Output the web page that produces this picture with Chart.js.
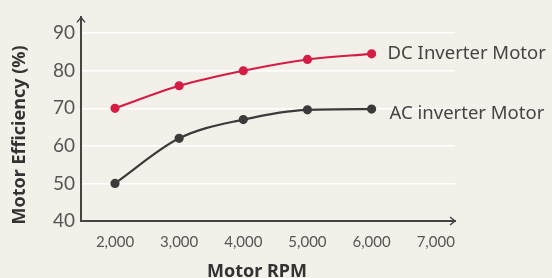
<!DOCTYPE html>
<html>
<head>
<meta charset="utf-8">
<script src="https://cdn.jsdelivr.net/npm/chart.js@4"></script>
<style>
  html, body { margin: 0; padding: 0; background: #f3f0ea; }
  #wrap { width: 552px; height: 278px; }
</style>
</head>
<body>
<div id="wrap"><canvas id="chart"></canvas></div>
<script>
const rpm = [2000, 3000, 4000, 5000, 6000];
const dcEfficiency = [70, 76, 80, 83, 84.5];
const acEfficiency = [50, 62, 67, 69.6, 69.8];
const xTicks = [2000, 3000, 4000, 5000, 6000, 7000];
const yTicks = [40, 50, 60, 70, 80, 90];
const seriesNames = ['DC Inverter Motor', 'AC inverter Motor'];
const xTitle = 'Motor RPM';
const yTitle = 'Motor Efficiency (%)';

const RED = '#d41c45';
const DARK = '#3b3b3b';

// arrows on the axes, axis titles, series labels next to the last point
const decorations = {
  id: 'decorations',
  afterDraw(chart) {
    const { ctx, chartArea: a } = chart;
    ctx.save();
    ctx.strokeStyle = '#444';
    ctx.lineWidth = 1.5;
    ctx.beginPath();
    ctx.moveTo(a.left - 4, a.top + 5); ctx.lineTo(a.left, a.top); ctx.lineTo(a.left + 4, a.top + 5);
    ctx.moveTo(a.right - 5, a.bottom - 4); ctx.lineTo(a.right, a.bottom); ctx.lineTo(a.right - 5, a.bottom + 4);
    ctx.stroke();

    ctx.font = 'bold 18px "Noto Sans"';
    ctx.fillStyle = '#333';
    ctx.textAlign = 'center';
    ctx.textBaseline = 'middle';
    ctx.fillText(xTitle, 257, 272);
    ctx.save();
    ctx.translate(20, 135);
    ctx.rotate(-Math.PI / 2);
    ctx.fillText(yTitle, 0, 0);
    ctx.restore();

    ctx.font = '18.5px "Noto Sans"';
    ctx.fillStyle = '#444';
    ctx.textAlign = 'left';
    const offs = [[16, 0], [18, 5]];
    chart.data.datasets.forEach((ds, i) => {
      const pts = chart.getDatasetMeta(i).data;
      const last = pts[pts.length - 1];
      ctx.fillText(seriesNames[i], last.x + offs[i][0], last.y + offs[i][1]);
    });
    ctx.restore();
  }
};

new Chart(document.getElementById('chart'), {
  type: 'line',
  data: {
    datasets: [
      { label: seriesNames[0], data: rpm.map((x, i) => ({ x, y: dcEfficiency[i] })),
        borderColor: RED, backgroundColor: RED, borderWidth: 2.2, pointRadius: 3.5,
        cubicInterpolationMode: 'monotone' },
      { label: seriesNames[1], data: rpm.map((x, i) => ({ x, y: acEfficiency[i] })),
        borderColor: DARK, backgroundColor: DARK, borderWidth: 2.2, pointRadius: 3.5,
        cubicInterpolationMode: 'monotone' }
    ]
  },
  options: {
    responsive: true,
    maintainAspectRatio: false,
    animation: false,
    layout: { padding: { left: 0, right: 97, top: 15, bottom: 0 } },
    plugins: { legend: { display: false }, tooltip: { enabled: false } },
    scales: {
      x: {
        type: 'linear', min: 1470, max: 7300,
        afterBuildTicks: s => { s.ticks = xTicks.map(v => ({ value: v })); },
        afterFit: s => { s.height = 57; },
        grid: { display: false },
        border: { color: '#444', width: 2 },
        ticks: { color: '#555', font: { family: 'Lato', size: 15 }, padding: 4,
          callback: v => v.toLocaleString('en-US') }
      },
      y: {
        min: 40, max: 94.2,
        afterBuildTicks: s => { s.ticks = yTicks.map(v => ({ value: v })); },
        afterFit: s => { s.width = 81; },
        grid: { color: '#ffffff', lineWidth: 1.5, drawTicks: false },
        border: { color: '#444', width: 2 },
        ticks: { color: '#555', font: { family: 'Lato', size: 19 }, padding: 6 }
      }
    }
  },
  plugins: [decorations]
});
</script>
</body>
</html>
